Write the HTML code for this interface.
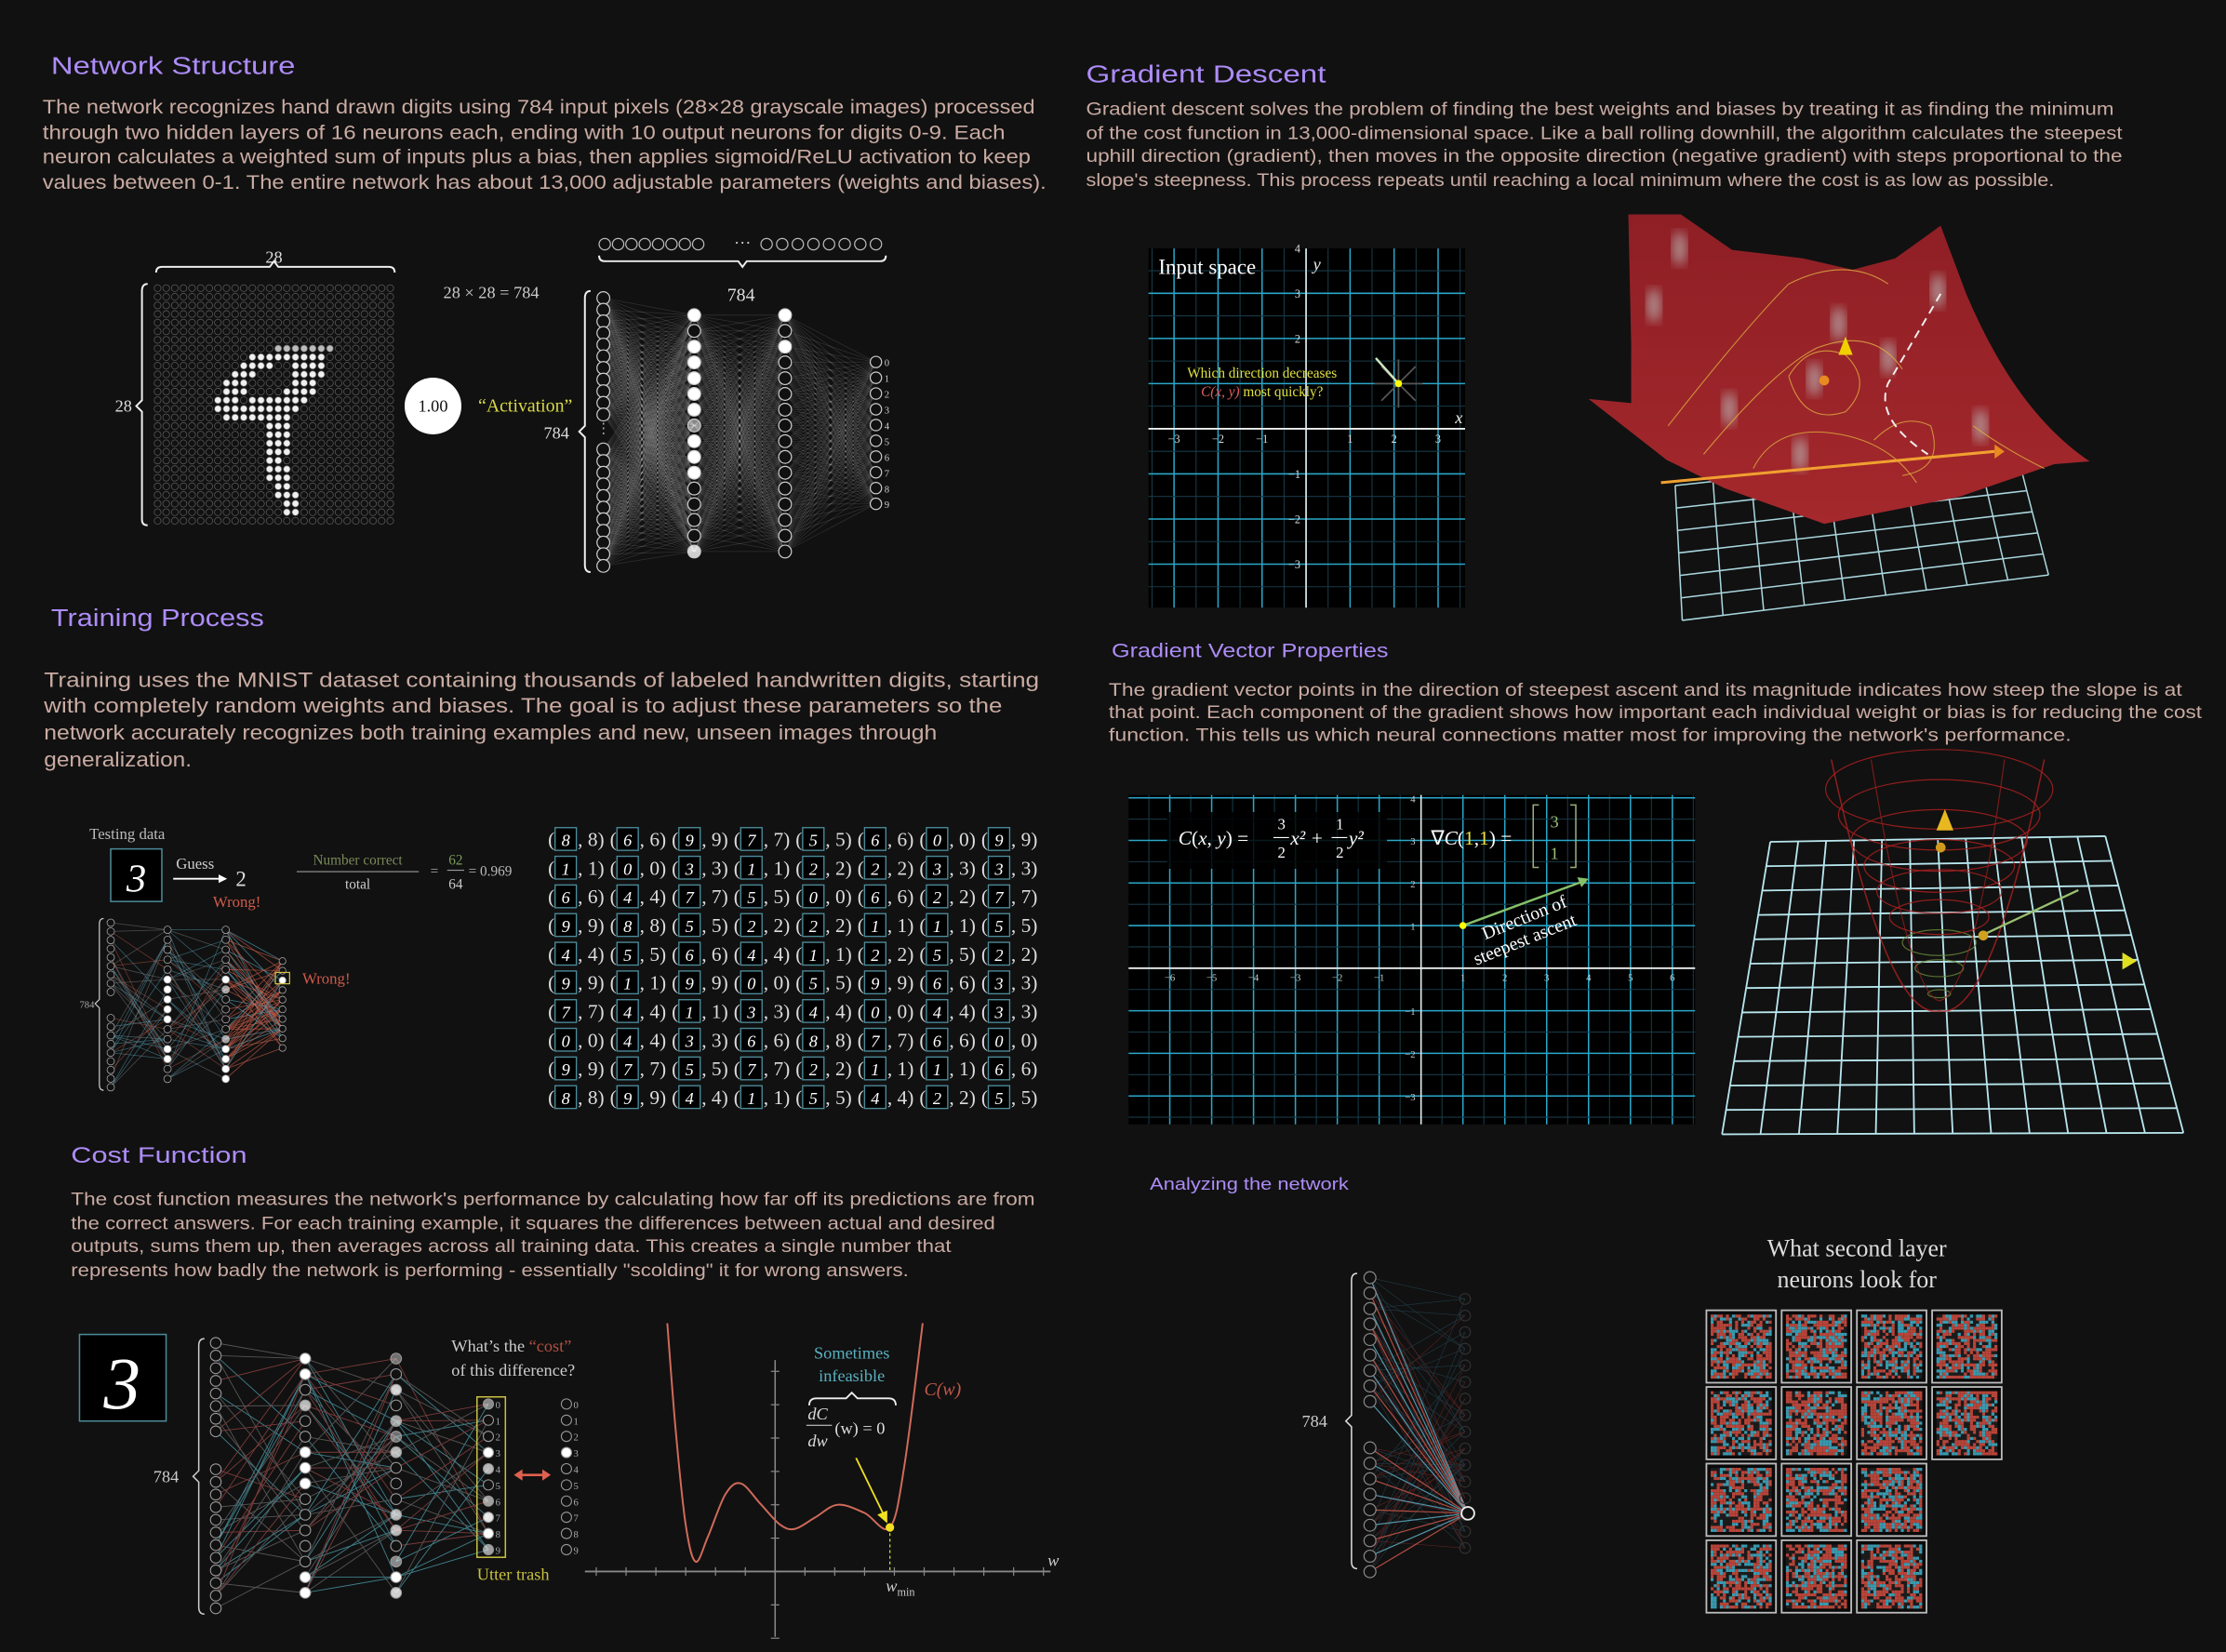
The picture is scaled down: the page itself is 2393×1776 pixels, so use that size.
<!DOCTYPE html>
<html><head><meta charset="utf-8"><style>
html,body{margin:0;padding:0;background:#111111;}
svg{display:block;}
.h{font-family:"Liberation Sans",sans-serif;fill:#ad8cf7;}
.p{font-family:"Liberation Sans",sans-serif;fill:#c9aba2;}
.m{font-family:"Liberation Serif",serif;}
</style></head><body>
<svg id="root" xmlns="http://www.w3.org/2000/svg" width="2393" height="1776" viewBox="0 0 1568 1163.7" preserveAspectRatio="none">
<rect x="0" y="0" width="1568" height="1164" fill="#111111"/>
<text class="h" x="36" y="52" font-size="17" textLength="172" lengthAdjust="spacingAndGlyphs">Network Structure</text>
<text class="h" x="765" y="58" font-size="17" textLength="169" lengthAdjust="spacingAndGlyphs">Gradient Descent</text>
<text class="h" x="36" y="441" font-size="17" textLength="150" lengthAdjust="spacingAndGlyphs">Training Process</text>
<text class="h" x="783" y="463" font-size="14" textLength="195" lengthAdjust="spacingAndGlyphs">Gradient Vector Properties</text>
<text class="h" x="50" y="819" font-size="16" textLength="124" lengthAdjust="spacingAndGlyphs">Cost Function</text>
<text class="h" x="810" y="838" font-size="12" textLength="140" lengthAdjust="spacingAndGlyphs">Analyzing the network</text>
<g font-size="14">
<text class="p" x="30" y="80" textLength="699" lengthAdjust="spacingAndGlyphs">The network recognizes hand drawn digits using 784 input pixels (28×28 grayscale images) processed</text>
<text class="p" x="30" y="98" textLength="678" lengthAdjust="spacingAndGlyphs">through two hidden layers of 16 neurons each, ending with 10 output neurons for digits 0-9. Each</text>
<text class="p" x="30" y="115" textLength="696" lengthAdjust="spacingAndGlyphs">neuron calculates a weighted sum of inputs plus a bias, then applies sigmoid/ReLU activation to keep</text>
<text class="p" x="30" y="133" textLength="707" lengthAdjust="spacingAndGlyphs">values between 0-1. The entire network has about 13,000 adjustable parameters (weights and biases).</text>
</g>
<g font-size="12.5">
<text class="p" x="765" y="81" textLength="724" lengthAdjust="spacingAndGlyphs">Gradient descent solves the problem of finding the best weights and biases by treating it as finding the minimum</text>
<text class="p" x="765" y="98" textLength="730" lengthAdjust="spacingAndGlyphs">of the cost function in 13,000-dimensional space. Like a ball rolling downhill, the algorithm calculates the steepest</text>
<text class="p" x="765" y="114" textLength="730" lengthAdjust="spacingAndGlyphs">uphill direction (gradient), then moves in the opposite direction (negative gradient) with steps proportional to the</text>
<text class="p" x="765" y="131" textLength="682" lengthAdjust="spacingAndGlyphs">slope's steepness. This process repeats until reaching a local minimum where the cost is as low as possible.</text>
</g>
<g font-size="14.5">
<text class="p" x="31" y="484" textLength="701" lengthAdjust="spacingAndGlyphs">Training uses the MNIST dataset containing thousands of labeled handwritten digits, starting</text>
<text class="p" x="31" y="502" textLength="675" lengthAdjust="spacingAndGlyphs">with completely random weights and biases. The goal is to adjust these parameters so the</text>
<text class="p" x="31" y="521" textLength="629" lengthAdjust="spacingAndGlyphs">network accurately recognizes both training examples and new, unseen images through</text>
<text class="p" x="31" y="540" textLength="104" lengthAdjust="spacingAndGlyphs">generalization.</text>
</g>
<g font-size="13">
<text class="p" x="781" y="490" textLength="756" lengthAdjust="spacingAndGlyphs">The gradient vector points in the direction of steepest ascent and its magnitude indicates how steep the slope is at</text>
<text class="p" x="781" y="506" textLength="770" lengthAdjust="spacingAndGlyphs">that point. Each component of the gradient shows how important each individual weight or bias is for reducing the cost</text>
<text class="p" x="781" y="522" textLength="678" lengthAdjust="spacingAndGlyphs">function. This tells us which neural connections matter most for improving the network's performance.</text>
</g>
<g font-size="13">
<text class="p" x="50" y="849" textLength="679" lengthAdjust="spacingAndGlyphs">The cost function measures the network's performance by calculating how far off its predictions are from</text>
<text class="p" x="50" y="866" textLength="651" lengthAdjust="spacingAndGlyphs">the correct answers. For each training example, it squares the differences between actual and desired</text>
<text class="p" x="50" y="882" textLength="620" lengthAdjust="spacingAndGlyphs">outputs, sums them up, then averages across all training data. This creates a single number that</text>
<text class="p" x="50" y="899" textLength="590" lengthAdjust="spacingAndGlyphs">represents how badly the network is performing - essentially "scolding" it for wrong answers.</text>
</g>
<g class="m" fill="#dddddd">
<text x="193" y="185" font-size="12" text-anchor="middle">28</text>
<text x="87" y="290" font-size="12" text-anchor="middle">28</text>
<text x="346" y="210" font-size="12" text-anchor="middle" fill="#cccccc">28 × 28 = 784</text>
<text x="522" y="212" font-size="13" text-anchor="middle">784</text>
<text x="392" y="309" font-size="12" text-anchor="middle">784</text>
<text x="370" y="290" font-size="13" text-anchor="middle" fill="#d8d84a">“Activation”</text>
</g>
<circle cx="305" cy="286" r="20" fill="#ffffff"/>
<text class="m" x="305" y="290" font-size="12" text-anchor="middle" fill="#111">1.00</text>
<path d="M110 192 Q110 188 114 188 L190 188 L193 184 L196 188 L274 188 Q278 188 278 192" stroke="#eee" fill="none" stroke-width="1.3"/>
<path d="M104 200 Q100 200 100 205 L100 282 L96 286 L100 290 L100 366 Q100 370 104 370" stroke="#eee" fill="none" stroke-width="1.3"/>
<path d="M422 180 Q422 184 426 184 L520 184 L523 188 L526 184 L620 184 Q624 184 624 180" stroke="#eee" fill="none" stroke-width="1.3"/>
<path d="M416 205 Q412 205 412 210 L412 300 L408 304 L412 308 L412 398 Q412 403 416 403" stroke="#eee" fill="none" stroke-width="1.3"/>
<g id="g1"></g>
<g id="g2"></g>
<g id="g3"></g>
<g id="g4"></g>
<g id="g5"></g>
<g id="g6"></g>
<g id="g7"></g>
<g id="g8"></g>
<g id="g9"></g>
</svg>
<script>
const digitSegments = [[7,14,20,2],[8,11,19,3],[9,10,13,3],[9,16,19,3],[10,9,11,3],[10,16,19,3],[11,8,10,3],[11,16,18,3],[12,8,10,3],[12,15,18,3],[13,7,9,3],[13,11,17,3],[14,7,16,3],[15,8,15,3],[16,13,15,3],[17,13,15,3],[18,13,15,3],[19,13,15,3],[20,13,14,3],[21,13,15,3],[22,13,15,3],[23,14,15,3],[24,14,16,3],[25,15,16,3],[26,15,16,3]];
const hidden1Act = [1,0,1,1,1,1,1,0.5,1,1,1,0,0,0,0,0.8];
const hidden2Act = [1,0,1,0,0,0,0,0,0,0,0,0,0,0,0,0];
const testLabels = [[8,6,9,7,5,6,0,9],[1,0,3,1,2,2,3,3],[6,4,7,5,0,6,2,7],[9,8,5,2,2,1,1,5],[4,5,6,4,1,2,5,2],[9,1,9,0,5,9,6,3],[7,4,1,3,4,0,4,3],[0,4,3,6,8,7,6,0],[9,7,5,7,2,1,1,6],[8,9,4,1,5,4,2,5]];
const testImages = [[8,6,9,7,5,6,0,9],[1,0,3,1,2,2,3,3],[6,4,7,5,0,6,2,7],[9,8,5,2,2,1,1,5],[4,5,6,4,1,2,5,2],[9,1,9,0,5,9,6,3],[7,4,1,3,4,0,4,3],[0,4,3,6,8,7,6,0],[9,7,5,7,2,1,1,6],[8,9,4,1,5,4,2,5]];
const xTicks1 = [-3,-2,-1,1,2,3];
const yTicks1 = [-3,-2,-1,2,3,4];
const xTicks2 = [-6,-5,-4,-3,-2,-1,1,2,3,4,5,6];
const yTicks2 = [-3,-2,-1,1,2,3,4];
const costW = [-2.17,-2.0,-1.8,-1.6,-1.35,-1.0,-0.69,-0.3,0.1,0.4,0.8,1.26,1.8,2.31,2.6,2.97];
const costC = [10.6,6.0,2.0,0.42,1.5,3.3,3.76,2.9,2.0,1.82,2.3,2.85,2.5,1.88,4.5,10.6];
const wMin = 2.31;
const cMin = 1.88;
const costOut = [0.5,0,0,1,0.7,0,0.6,0.9,1,0.6];
const desiredOut = [0,0,0,1,0,0,0,0,0,0];

const NS='http://www.w3.org/2000/svg';
function mk(parent, tag, attrs, name, txt){
  const el=document.createElementNS(NS,tag);
  for(const k in attrs) el.setAttribute(k, attrs[k]);
  
  
  if(txt!==undefined) el.textContent=txt;
  parent.appendChild(el);
  return el;
}
function rng(seed){let s=seed;return ()=>{s=(s*16807)%2147483647;return s/2147483647;};}

(function(){
  const g=document.getElementById('g1');
  const pix=[];for(let r=0;r<28;r++){pix.push(new Array(28).fill(0));}
  digitSegments.forEach(s=>{for(let c=s[1];c<=s[2];c++) pix[s[0]][c]=s[3];});
  for(let r=0;r<28;r++)for(let c=0;c<28;c++){
    const v=pix[r][c];
    const fill=v===0?'none':(v===3?'#f0f0f0':(v===2?'#bbbbbb':'#888'));
    mk(g,'circle',{cx:111+c*6.07,cy:203+r*6.07,r:2.4,fill:fill,stroke:'#5a5a5a','stroke-width':0.5},'pixel');
  }
  for(let i=0;i<8;i++){mk(g,'circle',{cx:426+i*9.4,cy:172,r:4,fill:'none',stroke:'#bbb','stroke-width':0.8},'input-row-neuron');}
  for(let i=0;i<8;i++){mk(g,'circle',{cx:540+i*11,cy:172,r:4,fill:'none',stroke:'#bbb','stroke-width':0.8},'input-row-neuron');}
  mk(g,'text',{x:523,y:175,'font-size':12,fill:'#ccc','text-anchor':'middle'},'ellipsis','···');
  const inY=[];for(let i=0;i<24;i++){ if(i>=11&&i<=12) continue; inY.push(210+i*8.2);}
  const h1Y=[];for(let i=0;i<16;i++) h1Y.push(222+i*11.1);
  const h2Y=h1Y.slice();
  const oY=[];for(let i=0;i<10;i++) oY.push(255+i*11.1);
  const ln=mk(g,'g',{stroke:'#ffffff','stroke-opacity':0.13,'stroke-width':0.5},'connections');
  inY.forEach(a=>h1Y.forEach(b=>mk(ln,'line',{x1:425,y1:a,x2:489,y2:b},'weight-line')));
  h1Y.forEach(a=>h2Y.forEach(b=>mk(ln,'line',{x1:489,y1:a,x2:553,y2:b},'weight-line')));
  h2Y.forEach(a=>oY.forEach(b=>mk(ln,'line',{x1:553,y1:a,x2:617,y2:b},'weight-line')));
  inY.forEach(y=>mk(g,'circle',{cx:425,cy:y,r:4.5,fill:'#111',stroke:'#ccc','stroke-width':0.8},'input-neuron'));
  mk(g,'text',{x:425,y:305,'font-size':10,fill:'#aaa','text-anchor':'middle'},'input-ellipsis','⋮');
  h1Y.forEach((y,i)=>{const a=hidden1Act[i];mk(g,'circle',{cx:489,cy:y,r:4.5,fill:a>0?`rgba(255,255,255,${a})`:'#111',stroke:'#ccc','stroke-width':0.8},'hidden1-neuron');});
  h2Y.forEach((y,i)=>{const a=hidden2Act[i];mk(g,'circle',{cx:553,cy:y,r:4.5,fill:a>0?`rgba(255,255,255,${a})`:'#111',stroke:'#ccc','stroke-width':0.8},'hidden2-neuron');});
  oY.forEach((y,i)=>{mk(g,'circle',{cx:617,cy:y,r:4,fill:'#111',stroke:'#ccc','stroke-width':0.8},'output-neuron');
    mk(g,'text',{x:623,y:y+3,'font-size':7,fill:'#ccc',class:'m'},'output-label',String(i));});
})();

(function(){
  const g=document.getElementById('g2');
  const ox=920,oy=302,ux=31,uy=31.8;
  const X=v=>ox+v*ux, Y=v=>oy-v*uy;
  mk(g,'rect',{x:809,y:175,width:223,height:253,fill:'#000'},'plot-bg');
  for(let v=-3.5;v<=3.5;v+=0.5){const x=X(v);if(x<809||x>1032)continue;mk(g,'line',{x1:x,y1:175,x2:x,y2:428,stroke:Number.isInteger(v)?'#2aa7c9':'#173a47','stroke-width':Number.isInteger(v)?1:0.7},'grid-v');}
  for(let v=-4;v<=4.5;v+=0.5){const y=Y(v);if(y<175||y>428)continue;mk(g,'line',{x1:809,y1:y,x2:1032,y2:y,stroke:Number.isInteger(v)?'#2aa7c9':'#173a47','stroke-width':Number.isInteger(v)?1:0.7},'grid-h');}
  mk(g,'line',{x1:809,y1:oy,x2:1032,y2:oy,stroke:'#eee','stroke-width':1.2},'x-axis');
  mk(g,'line',{x1:ox,y1:175,x2:ox,y2:428,stroke:'#eee','stroke-width':1},'y-axis');
  xTicks1.forEach(t=>mk(g,'text',{x:X(t),y:oy+10,'font-size':8,fill:'#ddd','text-anchor':'middle',class:'m'},'x-tick',(t<0?'−'+(-t):t)));
  yTicks1.forEach(t=>mk(g,'text',{x:ox-4,y:Y(t)+3,'font-size':8,fill:'#ddd','text-anchor':'end',class:'m'},'y-tick',(t<0?'−'+(-t):t)));
  mk(g,'text',{x:1025,y:298,'font-size':12,fill:'#eee','font-style':'italic',class:'m'},'x-label','x');
  mk(g,'text',{x:925,y:190,'font-size':12,fill:'#eee','font-style':'italic',class:'m'},'y-label','y');
  mk(g,'text',{x:816,y:193,'font-size':15,fill:'#fff',class:'m'},'input-space-title','Input space');
  mk(g,'text',{x:889,y:266,'font-size':10,fill:'#e0e040','text-anchor':'middle',class:'m'},'question-line1','Which direction decreases');
  const t=mk(g,'text',{x:889,y:279,'font-size':10,fill:'#e0e040','text-anchor':'middle',class:'m'},'question-line2','');
  t.innerHTML='<tspan fill="#e06060" font-style="italic">C(x, y)</tspan> most quickly?';
  const px=X(2.1),py=Y(1);
  for(let a=0;a<8;a++){const an=a*Math.PI/4;mk(g,'line',{x1:px,y1:py,x2:px+17*Math.cos(an),y2:py-17*Math.sin(an),stroke:'#555','stroke-width':1.2},'direction-arrow');}
  mk(g,'line',{x1:px,y1:py,x2:px-16,y2:py-18,stroke:'#cde8c0','stroke-width':1.6},'best-direction-arrow');
  mk(g,'circle',{cx:px,cy:py,r:2.5,fill:'#ffff00'},'point');
})();

(function(){
  const g=document.getElementById('g3');
  const defs=mk(g,'defs',{},'defs');
  defs.innerHTML='<linearGradient id="sg" x1="0" y1="0" x2="0" y2="1"><stop offset="0" stop-color="#8e1f25"/><stop offset="1" stop-color="#a4282c"/></linearGradient><filter id="bl"><feGaussianBlur stdDeviation="4"/></filter>';
  const TL=[1180,342],TR=[1420,316],BR=[1443,405],BL=[1185,437];
  const lerp=(a,b,t)=>[a[0]+(b[0]-a[0])*t,a[1]+(b[1]-a[1])*t];
  for(let i=0;i<=9;i++){const a=lerp(TL,TR,i/9),b=lerp(BL,BR,i/9);mk(g,'line',{x1:a[0],y1:a[1],x2:b[0],y2:b[1],stroke:'#a9d6dd','stroke-width':1},'plane-grid');}
  for(let i=0;i<=6;i++){const a=lerp(TL,BL,i/6),b=lerp(TR,BR,i/6);mk(g,'line',{x1:a[0],y1:a[1],x2:b[0],y2:b[1],stroke:'#a9d6dd','stroke-width':1},'plane-grid');}
  mk(g,'path',{d:'M1147 151 L1184 151 L1220 176 L1270 182 L1305 190 L1335 182 L1367 159 L1385 207 Q1420 290 1472 325 L1447 327 L1380 350 L1285 369 L1215 344 L1174 324 L1119 281 L1149 284 L1149 242 Z',fill:'url(#sg)'},'red-surface');
  [[1165,215],[1183,175],[1295,228],[1330,252],[1218,288],[1268,320],[1278,267],[1365,205],[1395,300]].forEach(p=>mk(g,'ellipse',{cx:p[0],cy:p[1],rx:5,ry:12,fill:'#bbb',opacity:0.7,filter:'url(#bl)'},'highlight-spot'));
  ['M1175 300 Q1230 230 1260 200 Q1300 180 1330 200','M1200 320 Q1250 260 1280 245 Q1320 230 1340 260','M1260 265 Q1275 240 1300 250 Q1320 270 1300 290 Q1270 300 1260 265','M1320 310 Q1340 290 1360 300 Q1370 330 1340 335','M1235 330 Q1250 300 1290 305 Q1330 310 1350 340','M1390 300 Q1410 315 1440 330'].forEach(d=>mk(g,'path',{d:d,fill:'none',stroke:'#e0b040','stroke-width':0.7,opacity:0.8},'contour-line'));
  mk(g,'line',{x1:1170,y1:340,x2:1405,y2:318,stroke:'#f0a030','stroke-width':2},'orange-axis');
  mk(g,'path',{d:'M1405 313 L1412 318 L1405 323 Z',fill:'#e88a20'},'orange-arrowhead');
  mk(g,'path',{d:'M1367 207 L1330 270 Q1320 295 1358 320',fill:'none',stroke:'#eee','stroke-width':1.3,'stroke-dasharray':'6 4'},'descent-path');
  mk(g,'path',{d:'M1300 237 L1295 250 L1305 250 Z',fill:'#f0d000'},'yellow-cone');
  mk(g,'circle',{cx:1285,cy:268,r:3.5,fill:'#e88a20'},'orange-ball');
})();

(function(){
  const g=document.getElementById('g4');
  mk(g,'text',{x:63,y:591,'font-size':11,fill:'#bbb',class:'m'},'testing-data-label','Testing data');
  mk(g,'rect',{x:78,y:598,width:36,height:37,fill:'#000',stroke:'#4c8a99','stroke-width':1},'test-digit-box');
  mk(g,'text',{x:96,y:628,'font-size':28,fill:'#fff','text-anchor':'middle','font-style':'italic'},'test-digit','3');
  mk(g,'text',{x:124,y:612,'font-size':11,fill:'#ccc',class:'m'},'guess-label','Guess');
  mk(g,'line',{x1:122,y1:619,x2:156,y2:619,stroke:'#fff','stroke-width':1.2},'guess-arrow');
  mk(g,'path',{d:'M160 619 L154 616 L154 622 Z',fill:'#fff'},'guess-arrowhead');
  mk(g,'text',{x:166,y:624,'font-size':15,fill:'#ddd',class:'m'},'guess-value','2');
  mk(g,'text',{x:150,y:639,'font-size':11,fill:'#d05a4a',class:'m'},'wrong-label','Wrong!');
  mk(g,'text',{x:252,y:609,'font-size':10,fill:'#7a8a5a','text-anchor':'middle',class:'m'},'number-correct','Number correct');
  mk(g,'line',{x1:209,y1:614,x2:295,y2:614,stroke:'#999','stroke-width':0.7},'fraction-bar');
  mk(g,'text',{x:252,y:626,'font-size':10,fill:'#ccc','text-anchor':'middle',class:'m'},'total','total');
  mk(g,'text',{x:306,y:617,'font-size':10,fill:'#aaa','text-anchor':'middle',class:'m'},'equals','=');
  mk(g,'text',{x:321,y:609,'font-size':10,fill:'#7a9a5a','text-anchor':'middle',class:'m'},'numerator','62');
  mk(g,'line',{x1:315,y1:613,x2:327,y2:613,stroke:'#999','stroke-width':0.7},'fraction-bar2');
  mk(g,'text',{x:321,y:626,'font-size':10,fill:'#ccc','text-anchor':'middle',class:'m'},'denominator','64');
  mk(g,'text',{x:330,y:617,'font-size':10,fill:'#bbb',class:'m'},'accuracy','= 0.969');
  const inY=[];for(let i=0;i<20;i++){if(i===9||i===10)continue;inY.push(650+i*6.1);}
  const h1=[];for(let i=0;i<16;i++)h1.push(655+i*7);
  const o=[];for(let i=0;i<10;i++)o.push(677+i*6.8);
  const cols=['#5aa9c0','#c05a4a','#888'];
  const r=rng(7);
  inY.forEach(a=>h1.forEach(b=>{if(r()<0.15)mk(g,'line',{x1:78,y1:a,x2:118,y2:b,stroke:cols[Math.floor(r()*3)],'stroke-width':0.5,opacity:0.5},'weight-line');}));
  h1.forEach(a=>h1.forEach(b=>{if(r()<0.2)mk(g,'line',{x1:118,y1:a,x2:159,y2:b,stroke:cols[Math.floor(r()*3)],'stroke-width':0.5,opacity:0.5},'weight-line');}));
  h1.forEach(a=>o.forEach(b=>{if(r()<0.4)mk(g,'line',{x1:159,y1:a,x2:199,y2:b,stroke:r()<0.7?'#d0604a':'#5aa9c0','stroke-width':0.6,opacity:0.6},'weight-line');}));
  mk(g,'path',{d:'M73 647 Q70 647 70 651 L70 704 L67 707 L70 710 L70 764 Q70 768 73 768',fill:'none',stroke:'#ccc','stroke-width':0.8},'brace');
  mk(g,'text',{x:56,y:710,'font-size':7,fill:'#aaa',class:'m'},'input-count','784');
  inY.forEach(y=>mk(g,'circle',{cx:78,cy:y,r:2.6,fill:'#111',stroke:'#aaa','stroke-width':0.5},'input-neuron'));
  const a1=[0,0,0,0,0,1,1,1,1,1,0,0,1,1,0,0];
  const a2=[0,0,0,0,0,1,0.6,0,0,0,0,0.6,1,1,1,1];
  h1.forEach((y,i)=>mk(g,'circle',{cx:118,cy:y,r:2.6,fill:a1[i]?'#fff':'#111',stroke:'#aaa','stroke-width':0.5},'hidden1-neuron'));
  h1.forEach((y,i)=>mk(g,'circle',{cx:159,cy:y,r:2.6,fill:a2[i]?`rgba(255,255,255,${a2[i]})`:'#111',stroke:'#aaa','stroke-width':0.5},'hidden2-neuron'));
  o.forEach((y,i)=>mk(g,'circle',{cx:199,cy:y,r:2.4,fill:i===2?'#fff':'#111',stroke:'#aaa','stroke-width':0.5},'output-neuron'));
  mk(g,'rect',{x:194,y:685,width:10,height:8,fill:'none',stroke:'#d0c040','stroke-width':0.8},'output-highlight');
  mk(g,'text',{x:213,y:693,'font-size':11,fill:'#d05a4a',class:'m'},'wrong-label2','Wrong!');
  for(let row=0;row<10;row++)for(let c=0;c<8;c++){
    const x0=386+c*43.6,yb=596+row*20.2;
    mk(g,'text',{x:x0,y:yb,'font-size':14,fill:'#ddd',class:'m'},'paren','(');
    mk(g,'rect',{x:x0+5,y:yb-13,width:15,height:16,fill:'#000',stroke:'#4c8a99','stroke-width':0.9},'test-image');
    mk(g,'text',{x:x0+12.5,y:yb,'font-size':12,fill:'#fff','text-anchor':'middle','font-style':'italic'},'test-image-digit',String(testImages[row][c]));
    mk(g,'text',{x:x0+21,y:yb,'font-size':14,fill:'#ddd',class:'m'},'test-label',', '+testLabels[row][c]+')');
  }
})();

(function(){
  const g=document.getElementById('g5');
  const ox=1001,oy=682,ux=29.5,uy=30;
  const X=v=>ox+v*ux, Y=v=>oy-v*uy;
  mk(g,'rect',{x:795,y:560,width:399,height:232,fill:'#000'},'plot-bg');
  for(let v=-7;v<=7;v+=0.5){const x=X(v);if(x<795||x>1194)continue;mk(g,'line',{x1:x,y1:560,x2:x,y2:792,stroke:Number.isInteger(v)?'#2aa7c9':'#173a47','stroke-width':Number.isInteger(v)?1:0.7},'grid-v');}
  for(let v=-4;v<=4.5;v+=0.5){const y=Y(v);if(y<560||y>792)continue;mk(g,'line',{x1:795,y1:y,x2:1194,y2:y,stroke:Number.isInteger(v)?'#2aa7c9':'#173a47','stroke-width':Number.isInteger(v)?1:0.7},'grid-h');}
  mk(g,'line',{x1:795,y1:oy,x2:1194,y2:oy,stroke:'#ddd','stroke-width':1.3},'x-axis');
  mk(g,'line',{x1:ox,y1:560,x2:ox,y2:792,stroke:'#eee','stroke-width':1},'y-axis');
  xTicks2.forEach(t=>mk(g,'text',{x:X(t),y:oy+9,'font-size':7,fill:'#ccc','text-anchor':'middle',class:'m'},'x-tick',(t<0?'−'+(-t):t)));
  yTicks2.forEach(t=>mk(g,'text',{x:ox-4,y:Y(t)+3,'font-size':7,fill:'#ccc','text-anchor':'end',class:'m'},'y-tick',(t<0?'−'+(-t):t)));
  mk(g,'rect',{x:822,y:572,width:155,height:40,fill:'#000',opacity:0.85},'formula-bg');
  const f=mk(g,'text',{x:830,y:595,'font-size':14,fill:'#fff',class:'m'},'cost-formula','');
  f.innerHTML='<tspan font-style="italic">C</tspan>(<tspan font-style="italic">x</tspan>, <tspan font-style="italic">y</tspan>) = ';
  mk(g,'text',{x:900,y:584,'font-size':11,fill:'#fff',class:'m'},'frac','3');
  mk(g,'line',{x1:897,y1:590,x2:908,y2:590,stroke:'#fff','stroke-width':0.7},'frac-bar');
  mk(g,'text',{x:900,y:604,'font-size':11,fill:'#fff',class:'m'},'frac','2');
  mk(g,'text',{x:909,y:595,'font-size':14,fill:'#fff','font-style':'italic',class:'m'},'x2','x² +');
  mk(g,'text',{x:941,y:584,'font-size':11,fill:'#fff',class:'m'},'frac','1');
  mk(g,'line',{x1:938,y1:590,x2:949,y2:590,stroke:'#fff','stroke-width':0.7},'frac-bar');
  mk(g,'text',{x:941,y:604,'font-size':11,fill:'#fff',class:'m'},'frac','2');
  mk(g,'text',{x:950,y:595,'font-size':14,fill:'#fff','font-style':'italic',class:'m'},'y2','y²');
  const gr=mk(g,'text',{x:1008,y:595,'font-size':14,fill:'#fff',class:'m'},'gradient-formula','');
  gr.innerHTML='∇<tspan font-style="italic">C</tspan>(<tspan fill="#e8e040">1</tspan>,<tspan fill="#e8e040">1</tspan>) =';
  mk(g,'path',{d:'M1084 567 L1080 567 L1080 611 L1084 611 M1106 567 L1110 567 L1110 611 L1106 611',fill:'none',stroke:'#9aae78','stroke-width':1},'vector-brackets');
  mk(g,'text',{x:1095,y:583,'font-size':12,fill:'#9ac078','text-anchor':'middle',class:'m'},'vector-x','3');
  mk(g,'text',{x:1095,y:605,'font-size':12,fill:'#9ac078','text-anchor':'middle',class:'m'},'vector-y','1');
  mk(g,'line',{x1:X(1),y1:Y(1),x2:X(3.9),y2:Y(2.05),stroke:'#86c06a','stroke-width':1.6},'gradient-arrow');
  mk(g,'path',{d:`M${X(4)} ${Y(2.1)} l-8 -1 l3 7 z`,fill:'#86c06a'},'gradient-arrowhead');
  mk(g,'circle',{cx:X(1),cy:Y(1),r:2.5,fill:'#ffff00'},'point');
  mk(g,'text',{x:0,y:0,'font-size':13,fill:'#fff',class:'m',transform:`translate(1046 662) rotate(-22)`},'direction-label1','Direction of');
  mk(g,'text',{x:0,y:0,'font-size':13,fill:'#fff',class:'m',transform:`translate(1040 680) rotate(-22)`},'direction-label2','steepest ascent');
})();

(function(){
  const g=document.getElementById('g6');
  const TL=[1247,593],TR=[1483,589],BR=[1538,798],BL=[1213,799];
  const lerp=(a,b,t)=>[a[0]+(b[0]-a[0])*t,a[1]+(b[1]-a[1])*t];
  for(let i=0;i<=12;i++){const a=lerp(TL,TR,i/12),b=lerp(BL,BR,i/12);mk(g,'line',{x1:a[0],y1:a[1],x2:b[0],y2:b[1],stroke:'#b8e6ee','stroke-width':1.2},'plane-grid');}
  for(let i=0;i<=12;i++){const a=lerp(TL,BL,i/12),b=lerp(TR,BR,i/12);mk(g,'line',{x1:a[0],y1:a[1],x2:b[0],y2:b[1],stroke:'#b8e6ee','stroke-width':1.2},'plane-grid');}
  for(let k=0;k<9;k++){const w=8+k*9,cy=700-k*18;mk(g,'ellipse',{cx:1366,cy:cy,rx:w,ry:w*0.35,fill:'none',stroke:k<3?'#6a8a3a':'#b02020','stroke-width':0.8,opacity:0.8},'paraboloid-ring');}
  mk(g,'path',{d:'M1290 535 Q1330 720 1366 712 Q1402 720 1440 535',fill:'none',stroke:'#b02020','stroke-width':1,opacity:0.8},'paraboloid-outline');
  mk(g,'path',{d:'M1318 535 Q1345 700 1366 705 Q1390 700 1412 535',fill:'none',stroke:'#a02020','stroke-width':0.8,opacity:0.7},'paraboloid-outline');
  mk(g,'path',{d:'M1370 570 L1364 585 L1376 585 Z',fill:'#e8b820'},'yellow-cone');
  mk(g,'circle',{cx:1367,cy:597,r:3.5,fill:'#d09a20'},'yellow-ball');
  mk(g,'line',{x1:1398,y1:658,x2:1464,y2:627,stroke:'#9ac070','stroke-width':1.5},'gradient-arrow');
  mk(g,'circle',{cx:1397,cy:659,r:3.5,fill:'#d0a020'},'point');
  mk(g,'path',{d:'M1495 671 L1505 677 L1495 683 Z',fill:'#e0e020'},'axis-arrowhead');
})();

(function(){
  const g=document.getElementById('g7');
  mk(g,'rect',{x:56,y:940,width:61,height:61,fill:'#000',stroke:'#4c8a99','stroke-width':1},'digit-box');
  mk(g,'text',{x:86,y:992,'font-size':52,fill:'#fff','text-anchor':'middle','font-style':'italic'},'digit','3');
  const inY=[];for(let i=0;i<22;i++){if(i===8||i===9)continue;inY.push(946+i*8.9);}
  const h=[];for(let i=0;i<16;i++)h.push(957+i*11);
  const o=[];for(let i=0;i<10;i++)o.push(989+i*11.4);
  const r=rng(13);
  const cols=['#3f7f8a','#7a3a3a','#555'];
  inY.forEach(a=>h.forEach(b=>{if(r()<0.12)mk(g,'line',{x1:152,y1:a,x2:215,y2:b,stroke:cols[Math.floor(r()*3)],'stroke-width':0.6},'weight-line');}));
  h.forEach(a=>h.forEach(b=>{if(r()<0.15)mk(g,'line',{x1:215,y1:a,x2:279,y2:b,stroke:cols[Math.floor(r()*3)],'stroke-width':0.6},'weight-line');}));
  h.forEach(a=>o.forEach(b=>{if(r()<0.25)mk(g,'line',{x1:279,y1:a,x2:344,y2:b,stroke:cols[Math.floor(r()*3)],'stroke-width':0.6},'weight-line');}));
  mk(g,'path',{d:'M144 943 Q140 943 140 948 L140 1036 L136 1040 L140 1044 L140 1132 Q140 1137 144 1137',fill:'none',stroke:'#ccc','stroke-width':1},'brace');
  mk(g,'text',{x:108,y:1044,'font-size':12,fill:'#ccc',class:'m'},'input-count','784');
  inY.forEach(y=>mk(g,'circle',{cx:152,cy:y,r:3.8,fill:'#111',stroke:'#999','stroke-width':0.7},'input-neuron'));
  const a1=[1,1,0,0.7,0,0,1,1,1,0,0,0,0,0,1,1];
  const a2=[0.4,0,0.8,0,0.6,0.4,0.7,0,0,0,0.7,0.7,0,0.5,1,0.8];
  h.forEach((y,i)=>mk(g,'circle',{cx:215,cy:y,r:3.8,fill:a1[i]?`rgba(255,255,255,${a1[i]})`:'#111',stroke:'#999','stroke-width':0.7},'hidden1-neuron'));
  h.forEach((y,i)=>mk(g,'circle',{cx:279,cy:y,r:3.8,fill:a2[i]?`rgba(255,255,255,${a2[i]})`:'#111',stroke:'#999','stroke-width':0.7},'hidden2-neuron'));
  mk(g,'rect',{x:336,y:984,width:20,height:113,fill:'none',stroke:'#c8c040','stroke-width':1},'output-box');
  o.forEach((y,i)=>{mk(g,'circle',{cx:344,cy:y,r:3.6,fill:costOut[i]?`rgba(255,255,255,${costOut[i]})`:'#111',stroke:'#999','stroke-width':0.7},'output-neuron');
    mk(g,'text',{x:349,y:y+3,'font-size':7,fill:'#aaa',class:'m'},'output-label',String(i));
    mk(g,'circle',{cx:399,cy:y,r:3.6,fill:desiredOut[i]?'#fff':'#111',stroke:'#999','stroke-width':0.7},'desired-neuron');
    mk(g,'text',{x:404,y:y+3,'font-size':7,fill:'#aaa',class:'m'},'desired-label',String(i));});
  mk(g,'line',{x1:366,y1:1039,x2:384,y2:1039,stroke:'#e06050','stroke-width':1.8},'difference-arrow');
  mk(g,'path',{d:'M362 1039 l6 -4 l0 8 z M388 1039 l-6 -4 l0 8 z',fill:'#e06050'},'difference-arrowheads');
  const q=mk(g,'text',{x:318,y:952,'font-size':12,fill:'#ccc',class:'m'},'cost-question1','');
  q.innerHTML='What’s the <tspan fill="#b05040">“cost”</tspan>';
  mk(g,'text',{x:318,y:969,'font-size':12,fill:'#ccc',class:'m'},'cost-question2','of this difference?');
  mk(g,'text',{x:336,y:1113,'font-size':12,fill:'#c8c040',class:'m'},'utter-trash','Utter trash');
})();

(function(){
  const g=document.getElementById('g8');
  const x0=546,y0=1107,uw=35,uc=16.5;
  const X=w=>x0+w*uw, Y=c=>y0-c*uc;
  mk(g,'line',{x1:412,y1:y0,x2:740,y2:y0,stroke:'#888','stroke-width':1.2},'w-axis');
  for(let i=-6;i<=9;i++){mk(g,'line',{x1:x0+i*21,y1:y0-3,x2:x0+i*21,y2:y0+3,stroke:'#888','stroke-width':0.8},'w-tick');}
  mk(g,'line',{x1:x0,y1:958,x2:x0,y2:1153,stroke:'#888','stroke-width':1},'c-axis');
  for(let i=-2;i<=6;i++){mk(g,'line',{x1:x0-3,y1:y0-i*23.5,x2:x0+3,y2:y0-i*23.5,stroke:'#888','stroke-width':0.8},'c-tick');}
  const pts=costW.map((w,i)=>[X(w),Y(costC[i])]);
  let d=`M${pts[0][0]} ${pts[0][1]}`;
  for(let i=0;i<pts.length-1;i++){const p0=pts[Math.max(0,i-1)],p1=pts[i],p2=pts[i+1],p3=pts[Math.min(pts.length-1,i+2)];
    d+=` C${p1[0]+(p2[0]-p0[0])/6} ${p1[1]+(p2[1]-p0[1])/6} ${p2[0]-(p3[0]-p1[0])/6} ${p2[1]-(p3[1]-p1[1])/6} ${p2[0]} ${p2[1]}`;}
  mk(g,'path',{d:d,fill:'none',stroke:'#d06a5a','stroke-width':1.3},'cost-curve');
  const mx=X(wMin),my=Y(cMin);
  mk(g,'line',{x1:mx,y1:my,x2:mx,y2:y0,stroke:'#e0e040','stroke-width':0.8,'stroke-dasharray':'2 2'},'wmin-line');
  mk(g,'circle',{cx:mx,cy:my,r:3,fill:'#f0e020'},'wmin-point');
  mk(g,'line',{x1:603,y1:1027,x2:622,y2:1066,stroke:'#f0e020','stroke-width':1.2},'annotation-arrow');
  mk(g,'path',{d:'M625 1073 l-7 -6 l7 -3 z',fill:'#f0e020'},'annotation-arrowhead');
  mk(g,'text',{x:600,y:957,'font-size':12,fill:'#5ab0c0','text-anchor':'middle',class:'m'},'sometimes','Sometimes');
  mk(g,'text',{x:600,y:973,'font-size':12,fill:'#5ab0c0','text-anchor':'middle',class:'m'},'infeasible','infeasible');
  mk(g,'path',{d:'M570 990 Q570 985 575 985 L596 985 L600 981 L604 985 L626 985 Q631 985 631 990',fill:'none',stroke:'#eee','stroke-width':1.2},'brace');
  mk(g,'text',{x:569,y:1000,'font-size':12,fill:'#ddd','font-style':'italic',class:'m'},'dC','dC');
  mk(g,'line',{x1:568,y1:1004,x2:586,y2:1004,stroke:'#ddd','stroke-width':0.7},'deriv-bar');
  mk(g,'text',{x:569,y:1019,'font-size':12,fill:'#ddd','font-style':'italic',class:'m'},'dw','dw');
  mk(g,'text',{x:588,y:1010,'font-size':12,fill:'#ddd',class:'m'},'deriv-eq','(w) = 0');
  mk(g,'text',{x:651,y:983,'font-size':13,fill:'#c0574a','font-style':'italic',class:'m'},'cw-label','C(w)');
  mk(g,'text',{x:738,y:1103,'font-size':12,fill:'#ccc','font-style':'italic',class:'m'},'w-label','w');
  const wm=mk(g,'text',{x:624,y:1121,'font-size':12,fill:'#ccc','font-style':'italic',class:'m'},'wmin-label','');
  wm.innerHTML='w<tspan font-size="8" dy="3" font-style="normal">min</tspan>';
})();

(function(){
  const g=document.getElementById('g9');
  const inY=[];for(let i=0;i<20;i++){if(i===9||i===10)continue;inY.push(900+i*10.9);}
  const hY=[];for(let i=0;i<16;i++)hY.push(915+i*11.7);
  const r=rng(21);
  inY.forEach(a=>hY.forEach(b=>{if(r()<0.2)mk(g,'line',{x1:965,y1:a,x2:1032,y2:b,stroke:r()<0.5?'#5a2020':'#203a44','stroke-width':0.4},'weight-line');}));
  inY.forEach((a,i)=>mk(g,'line',{x1:965,y1:a,x2:1034,y2:1066,stroke:i%2?'#c8574a':'#5aa9c0','stroke-width':0.8,opacity:0.85},'highlight-weight'));
  mk(g,'path',{d:'M956 897 Q952 897 952 902 L952 997 L948 1001 L952 1005 L952 1100 Q952 1105 956 1105',fill:'none',stroke:'#ddd','stroke-width':1},'brace');
  mk(g,'text',{x:917,y:1005,'font-size':12,fill:'#ccc',class:'m'},'input-count','784');
  inY.forEach(y=>mk(g,'circle',{cx:965,cy:y,r:4.2,fill:'#111',stroke:'#888','stroke-width':0.8},'input-neuron'));
  hY.forEach(y=>mk(g,'circle',{cx:1032,cy:y,r:3.8,fill:'none',stroke:'#333','stroke-width':0.7},'hidden-neuron'));
  mk(g,'circle',{cx:1034,cy:1066,r:4.5,fill:'#111',stroke:'#eee','stroke-width':1.2},'selected-neuron');
  mk(g,'text',{x:1308,y:885,'font-size':17,fill:'#ddd','text-anchor':'middle',class:'m'},'tiles-title1','What second layer');
  mk(g,'text',{x:1308,y:907,'font-size':17,fill:'#ddd','text-anchor':'middle',class:'m'},'tiles-title2','neurons look for');
  const counts=[4,4,3,3];
  counts.forEach((n,row)=>{for(let c=0;c<n;c++){
    const x=1202+c*53,y=923+row*54;
    mk(g,'rect',{x:x,y:y,width:49,height:51,fill:'#0a0a0a',stroke:'#bbb','stroke-width':1.2},'weight-tile');
    const cell=2.15;
    for(let i=0;i<20;i++)for(let j=0;j<21;j++){const v=r();
      const col=v<0.45?'#b8453a':(v<0.72?'#3a9ab0':'#1c1c1c');
      mk(g,'rect',{x:x+3+i*cell,y:y+3+j*cell,width:cell,height:cell,fill:col},'tile-pixel');}
  }});
})();
</script>
</body></html>
